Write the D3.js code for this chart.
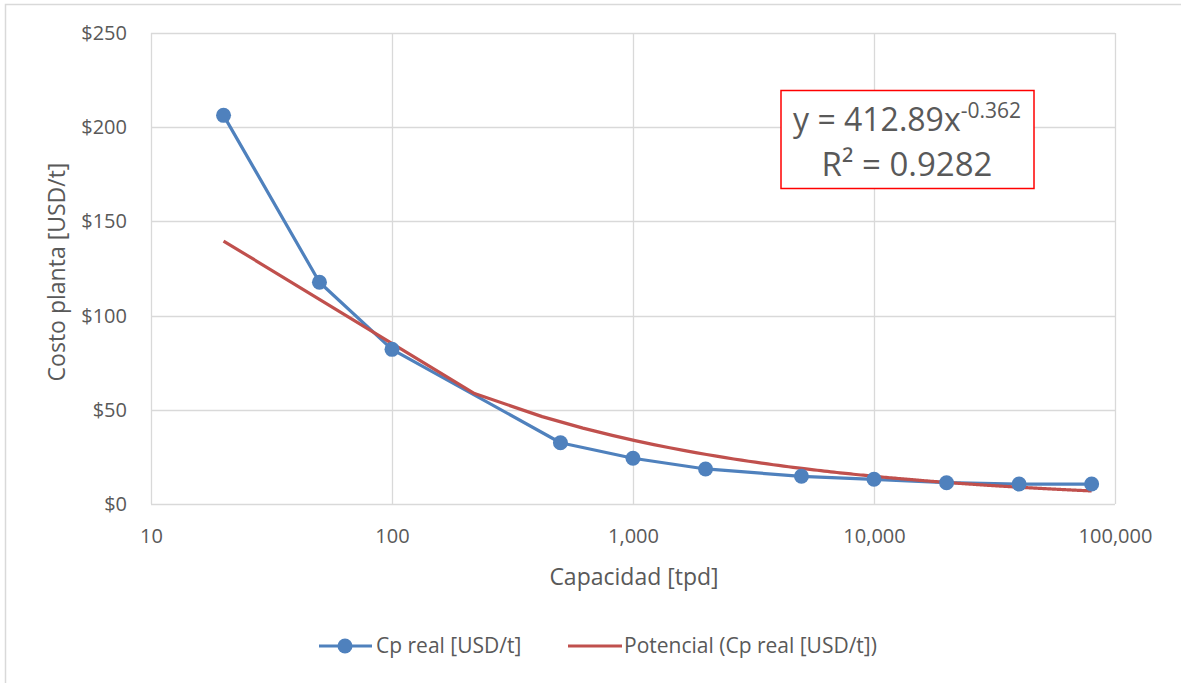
<!DOCTYPE html>
<html><head><meta charset="utf-8">
<script src="https://cdn.jsdelivr.net/npm/d3@7"></script>
<style>
html,body{margin:0;padding:0;background:#fff;}
text{font-family:"Open Sans","Liberation Sans",sans-serif;fill:#595959;}
</style></head>
<body>
<svg id="c" width="1181" height="683"></svg>
<script>
// ---- data ----
const capacidad = [20, 50, 100, 500, 1000, 2000, 5000, 10000, 20000, 40000, 80000];
const cpReal = [206.3, 117.7, 82.1, 32.5, 24.3, 18.6, 14.7, 13.1, 11.3, 10.6, 10.6];
const xTicks = [10, 100, 1000, 10000, 100000];
const xTickLabels = ["10", "100", "1,000", "10,000", "100,000"];
const yTicks = [0, 50, 100, 150, 200, 250];
const yTickLabels = ["$0", "$50", "$100", "$150", "$200", "$250"];
const trendCoef = [412.89];
const trendExp = [-0.362];
const r2 = ["0.9282"];
const seriesNames = ["Cp real [USD/t]", "Potencial (Cp real [USD/t])"];

const svg = d3.select("#c");
const W = 1181, H = 683;
const m = {l:151, r:1115, t:33, b:504};
const blue = "#4F81BD", red = "#C0504D", grid = "#D9D9D9";

// outer border
svg.append("rect").attr("x",5.5).attr("y",4.5).attr("width",W+10).attr("height",H+10)
  .attr("fill","none").attr("stroke","#D9D9D9").attr("stroke-width",1.5);

const x = d3.scaleLog().domain([10,100000]).range([m.l,m.r]);
const y = d3.scaleLinear().domain([0,250]).range([m.b,m.t]);

// gridlines
const g = svg.append("g");
g.selectAll(".hg").data(yTicks).enter().append("line")
  .attr("x1",m.l).attr("x2",m.r).attr("y1",d=>Math.round(y(d))+0.5).attr("y2",d=>Math.round(y(d))+0.5)
  .attr("stroke",grid).attr("stroke-width",1.3);
g.selectAll(".vg").data(xTicks).enter().append("line")
  .attr("y1",m.t).attr("y2",m.b).attr("x1",d=>Math.round(x(d))+0.5).attr("x2",d=>Math.round(x(d))+0.5)
  .attr("stroke",grid).attr("stroke-width",1.3);

// axes via d3 axes
const yAxis = d3.axisLeft(y).tickValues(yTicks).tickFormat((d,i)=>yTickLabels[i]).tickSize(0).tickPadding(24);
const ya = svg.append("g").attr("transform",`translate(${m.l},0)`).call(yAxis);
ya.select(".domain").remove();
ya.selectAll("text").style("font-size","20px").attr("fill","#595959");

const xAxis = d3.axisBottom(x).tickValues(xTicks).tickFormat((d,i)=>xTickLabels[i]).tickSize(0).tickPadding(27);
const xa = svg.append("g").attr("transform",`translate(0,${m.b})`).call(xAxis);
xa.select(".domain").remove();
xa.selectAll("text").style("font-size","20px").attr("fill","#595959").attr("dy","0.6em");

// axis titles
svg.append("text").attr("x",(m.l+m.r)/2+1).attr("y",585).attr("text-anchor","middle")
  .style("font-size","23px").text("Capacidad [tpd]");
svg.append("text").attr("transform",`translate(65,272) rotate(-90)`).attr("text-anchor","middle")
  .style("font-size","23px").text("Costo planta [USD/t]");

// series line
const data = capacidad.map((c,i)=>({x:c,y:cpReal[i]}));
const line = d3.line().x(d=>x(d.x)).y(d=>y(d.y));
svg.append("path").datum(data).attr("d",line).attr("fill","none")
  .attr("stroke",blue).attr("stroke-width",3.2).attr("stroke-linejoin","round");

// trend line (power fit shown in chart), sampled evenly in x like the spreadsheet renderer
const x0 = capacidad[0], x1 = capacidad[capacidad.length-1], nSeg = 400;
const trendPts = d3.range(0,nSeg+1).map(i=>{
  const xv = x0 + (x1-x0)*i/nSeg;
  return {x:xv, y:trendCoef[0]*Math.pow(xv,trendExp[0])};
});
svg.append("path").datum(trendPts).attr("d",line).attr("fill","none")
  .attr("stroke",red).attr("stroke-width",3.2).attr("stroke-linecap","butt").attr("stroke-linejoin","round");

// markers
svg.selectAll(".pt").data(data).enter().append("circle")
  .attr("cx",d=>x(d.x)).attr("cy",d=>y(d.y)).attr("r",7.5).attr("fill",blue);

// equation box
svg.append("rect").attr("x",781).attr("y",90.5).attr("width",253).attr("height",98)
  .attr("fill","#fff").attr("stroke","#FF0000").attr("stroke-width",1.5);
const eq = svg.append("text").attr("x",907).attr("y",131).attr("text-anchor","middle").style("font-size","32px");
eq.append("tspan").text("y = " + trendCoef[0].toFixed(2) + "x");
eq.append("tspan").attr("dy",-13).style("font-size","21px").text(trendExp[0].toFixed(3));
svg.append("text").attr("x",907).attr("y",176).attr("text-anchor","middle").style("font-size","33px")
  .text("R² = " + r2[0]);

// legend
const ly = 646;
svg.append("line").attr("x1",319).attr("x2",372).attr("y1",ly).attr("y2",ly).attr("stroke",blue).attr("stroke-width",3.2);
svg.append("circle").attr("cx",345).attr("cy",ly).attr("r",7.5).attr("fill",blue);
svg.append("text").attr("x",376).attr("y",ly+7).style("font-size","21px").text(seriesNames[0]);
svg.append("line").attr("x1",568).attr("x2",622).attr("y1",ly).attr("y2",ly).attr("stroke",red).attr("stroke-width",3.2);
svg.append("text").attr("x",624).attr("y",ly+7).style("font-size","21px").text(seriesNames[1]);
</script>
</body></html>
